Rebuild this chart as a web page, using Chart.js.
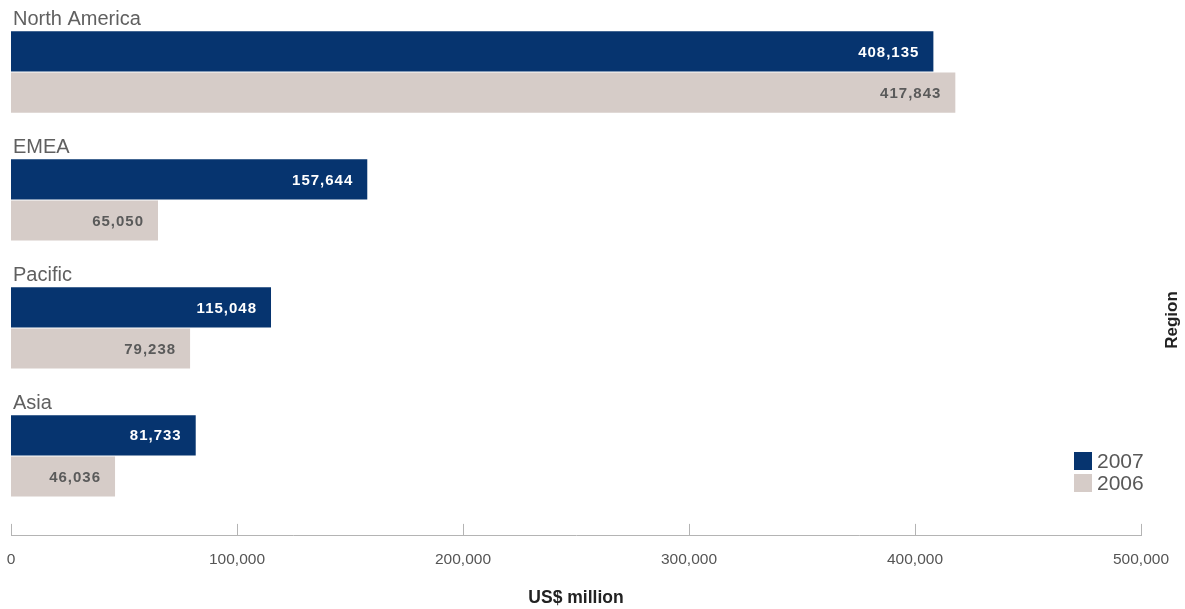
<!DOCTYPE html>
<html>
<head>
<meta charset="utf-8">
<title>Revenue by region</title>
<script src="https://cdn.jsdelivr.net/npm/chart.js@4/dist/chart.umd.min.js"></script>
<style>
  html, body { margin: 0; padding: 0; background: #ffffff; }
  canvas { display: block; }
</style>
</head>
<body>
<canvas id="c" width="1185" height="609"></canvas>
<script>
// Regions, top to bottom
const regions = ['North America', 'EMEA', 'Pacific', 'Asia'];
// Values in US$ million
const values2007 = [408135, 157644, 115048, 81733];
const values2006 = [417843, 65050, 79238, 46036];
const seriesNames = ['2007', '2006'];
// Horizontal axis ticks
const xTicks = [0, 100000, 200000, 300000, 400000, 500000];

const NAVY = '#06346f';
const SAND = '#d6ccc8';
const fmt = v => v.toLocaleString('en-US');

const FONT = '"Liberation Sans", Arial, sans-serif';

// Region name above each pair of bars, value labels inside the bar ends,
// tick marks pointing up from the axis, legend and the side title.
const decorations = {
  id: 'decorations',
  afterDatasetsDraw(chart) {
    const ctx = chart.ctx;
    const area = chart.chartArea;
    const xs = chart.scales.x;
    const metaTop = chart.getDatasetMeta(0);

    ctx.save();
    // region names
    ctx.font = '20px ' + FONT;
    ctx.fillStyle = '#606060';
    ctx.textAlign = 'left';
    ctx.textBaseline = 'alphabetic';
    metaTop.data.forEach((bar, i) => {
      const top = bar.y - bar.height / 2;
      ctx.fillText(regions[i], area.left + 2, top - 6);
    });

    // value labels
    ctx.font = 'bold 15px ' + FONT;
    ctx.letterSpacing = '1px';
    ctx.textAlign = 'right';
    ctx.textBaseline = 'middle';
    chart.data.datasets.forEach((ds, d) => {
      const meta = chart.getDatasetMeta(d);
      ctx.fillStyle = d === 0 ? '#ffffff' : '#5a5a5a';
      meta.data.forEach((bar, i) => {
        ctx.fillText(fmt(ds.data[i].x), bar.x - 14, bar.y + 1);
      });
    });
    ctx.letterSpacing = '0px';

    // tick marks above the axis line
    ctx.strokeStyle = '#b4b4b4';
    ctx.lineWidth = 1;
    xTicks.forEach(v => {
      const px = Math.round(xs.getPixelForValue(v)) + 0.5;
      ctx.beginPath();
      ctx.moveTo(px, area.bottom);
      ctx.lineTo(px, area.bottom - 12);
      ctx.stroke();
    });

    // legend
    const lx = 1074, ly = 452;
    chart.data.datasets.forEach((ds, d) => {
      const y = ly + d * 22;
      ctx.fillStyle = ds.backgroundColor;
      ctx.fillRect(lx, y, 18, 18);
      ctx.fillStyle = '#585858';
      ctx.font = '21px ' + FONT;
      ctx.textAlign = 'left';
      ctx.textBaseline = 'middle';
      ctx.fillText(ds.label, lx + 23, y + 10);
    });

    // side title
    ctx.translate(1172, 320);
    ctx.rotate(-Math.PI / 2);
    ctx.fillStyle = '#222222';
    ctx.font = 'bold 17px ' + FONT;
    ctx.textAlign = 'center';
    ctx.textBaseline = 'middle';
    ctx.fillText('Region', 0, 0);
    ctx.restore();
  }
};

const toPoints = vals => vals.map((v, i) => ({ x: v, y: i }));

new Chart(document.getElementById('c'), {
  type: 'bar',
  data: {
    datasets: [
      { label: seriesNames[0], data: toPoints(values2007), backgroundColor: NAVY },
      { label: seriesNames[1], data: toPoints(values2006), backgroundColor: SAND }
    ]
  },
  options: {
    indexAxis: 'y',
    responsive: false,
    animation: false,
    devicePixelRatio: 1,
    categoryPercentage: 0.643,
    barPercentage: 0.9756,
    layout: { padding: { top: 8, left: 11, right: 44, bottom: 0 } },
    plugins: {
      legend: { display: false },
      tooltip: { enabled: false }
    },
    scales: {
      y: {
        type: 'linear',
        reverse: true,
        offset: false,
        min: -0.5,
        max: 3.625,
        display: false,
        grid: { offset: false },
        afterBuildTicks: scale => {
          scale.ticks = regions.map((_, i) => ({ value: i }));
        }
      },
      x: {
        type: 'linear',
        min: 0,
        max: 500000,
        afterBuildTicks: scale => {
          scale.ticks = xTicks.map(v => ({ value: v }));
        },
        afterFit: scale => {
          scale.paddingLeft = 0;
          scale.paddingRight = 0;
        },
        grid: { display: false, drawTicks: false },
        border: { display: true, color: '#b4b4b4', width: 1 },
        ticks: {
          padding: 14.5,
          maxRotation: 0,
          color: '#555555',
          font: { family: FONT, size: 15.5 },
          callback: v => fmt(v)
        },
        title: {
          display: true,
          text: 'US$ million',
          color: '#222222',
          font: { family: FONT, size: 17.5, weight: 'bold' },
          padding: { top: 4.5, bottom: 0 }
        }
      }
    }
  },
  plugins: [decorations]
});
</script>
</body>
</html>
